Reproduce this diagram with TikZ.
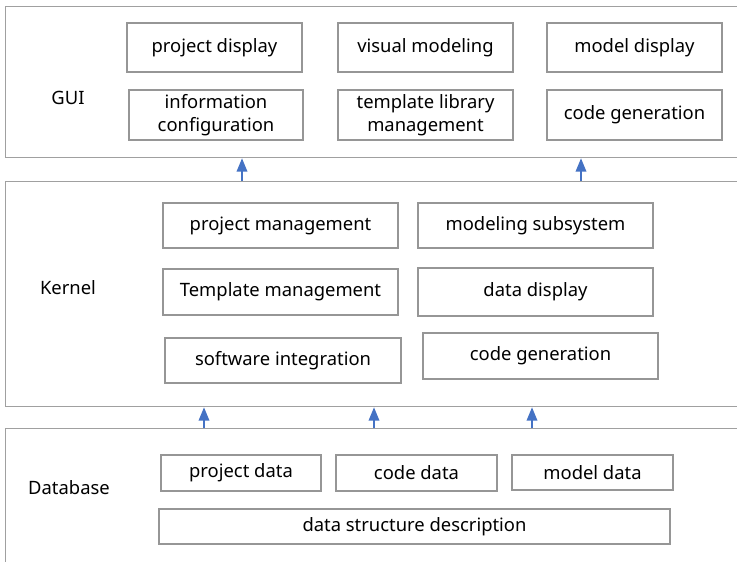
\documentclass[tikz,border=0pt]{standalone}
\usepackage{fontspec}
\setmainfont{Noto Sans}
\usetikzlibrary{arrows.meta}

\definecolor{framegray}{RGB}{160,160,160}
\definecolor{boxgray}{RGB}{150,150,150}
\definecolor{arrowblue}{RGB}{68,114,196}

\tikzset{
  layer/.style={draw=framegray, line width=1pt, inner sep=0pt, anchor=north west},
  module/.style 2 args={draw=boxgray, line width=0.8pt, inner sep=0pt, align=center,
    minimum width=#1*0.75pt, minimum height=#2*0.75pt},
  tag/.style={inner sep=0pt},
  uparrow/.style={draw=arrowblue, line width=1.1pt, -{Triangle[length=10pt,width=8pt]}}
}

\begin{document}
\begin{tikzpicture}[x=0.75pt, y=-0.75pt, font=\fontsize{13.8}{17}\selectfont]
\useasboundingbox (0,0) rectangle (737,561);
\clip (0,0) rectangle (737,561);

% layers
\node[layer, minimum width=760*0.75pt, minimum height=151*0.75pt] (gui) at (5,6) {};
\node[layer, minimum width=760*0.75pt, minimum height=225*0.75pt] (kernel) at (5,181) {};
\node[layer, minimum width=760*0.75pt, minimum height=160*0.75pt] (db) at (5,428) {};

\node[tag] (guilbl) at (68,98) {GUI};
\node[tag] (kernellbl) at (68,288) {Kernel};
\node[tag] (dblbl) at (69,488) {Database};

% GUI
\node[module={175}{49}] (pdisp) at (214.5,47.5) {project display};
\node[module={175}{49}] (vmod) at (425.5,47.5) {visual modeling};
\node[module={175}{49}] (mdisp) at (634.5,47.5) {model display};
\node[module={174}{50}] (infocfg) at (216,115) {information\\configuration};
\node[module={175}{50}] (tpllib) at (425.5,115) {template library\\management};
\node[module={175}{50}] (gcode) at (634.5,115) {code generation};

% Kernel
\node[module={235}{45}] (pmgmt) at (280.5,225.5) {project management};
\node[module={235}{46}] (tmgmt) at (280.5,292) {Template management};
\node[module={236}{45}] (swint) at (283,360.5) {software integration};
\node[module={235}{45}] (modsub) at (535.5,225.5) {modeling subsystem};
\node[module={235}{48}] (ddisp) at (535.5,292) {data display};
\node[module={235}{46}] (kcode) at (540.5,356) {code generation};

% Database
\node[module={160}{36}] (pdata) at (241,473) {project data};
\node[module={161}{36}] (cdata) at (416.5,473) {code data};
\node[module={161}{35}] (mdata) at (592.5,472.5) {model data};
\node[module={511}{35}] (dstruct) at (414.5,526.5) {data structure description};

% arrows
\coordinate (a1) at (242,0);
\coordinate (a2) at (581,0);
\coordinate (b1) at (204,0);
\coordinate (b2) at (374,0);
\coordinate (b3) at (532,0);
\draw[uparrow] (kernel.north -| a1) -- (gui.south -| a1);
\draw[uparrow] (kernel.north -| a2) -- (gui.south -| a2);
\draw[uparrow] (db.north -| b1) -- (kernel.south -| b1);
\draw[uparrow] (db.north -| b2) -- (kernel.south -| b2);
\draw[uparrow] (db.north -| b3) -- (kernel.south -| b3);
\end{tikzpicture}
\end{document}
